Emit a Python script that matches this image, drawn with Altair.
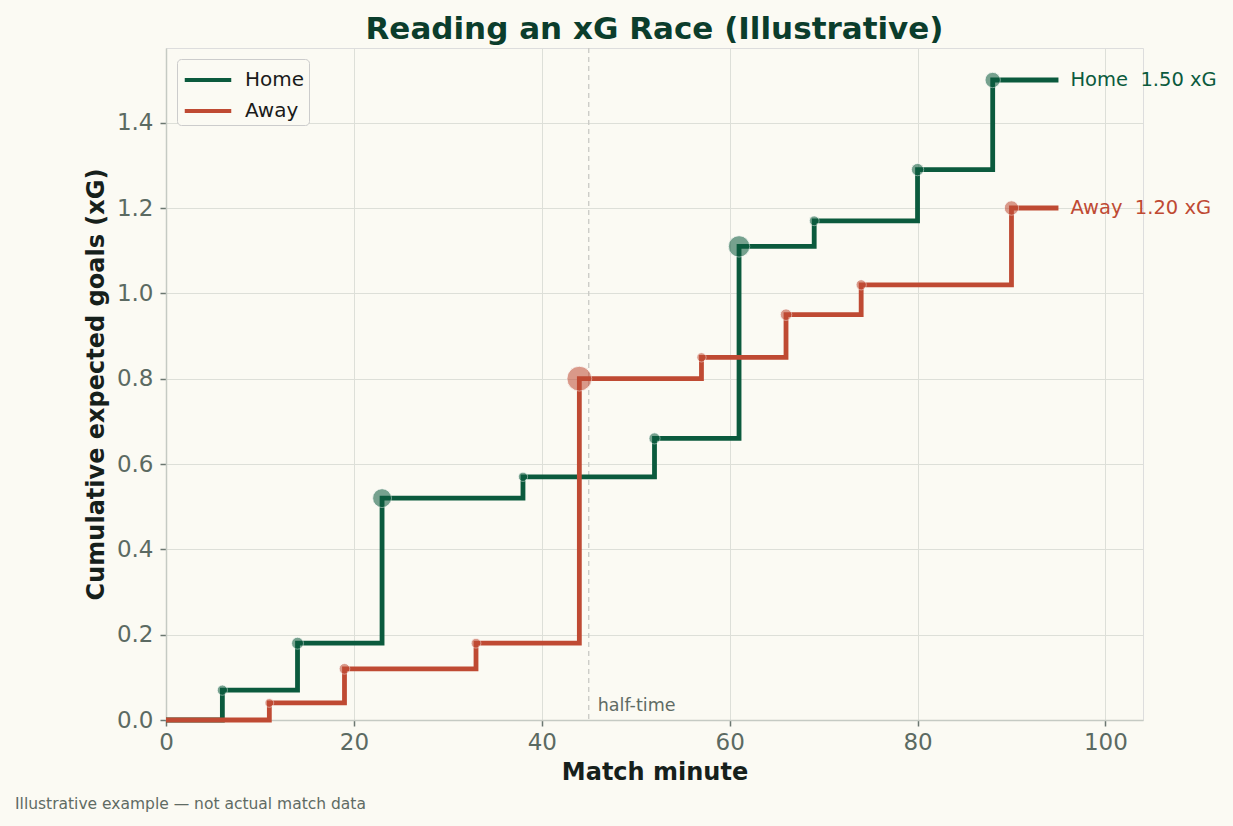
import altair as alt
import pandas as pd

# ---- data ----
home_minutes = [6, 14, 23, 38, 52, 61, 69, 80, 88]
home_shot_xg = [0.07, 0.11, 0.34, 0.05, 0.09, 0.45, 0.06, 0.12, 0.21]
away_minutes = [11, 19, 33, 44, 57, 66, 74, 90]
away_shot_xg = [0.04, 0.08, 0.06, 0.62, 0.05, 0.10, 0.07, 0.18]
teams = ["Home", "Away"]
team_colors = ["#0b5a3d", "#bf4a33"]
full_time = 95
half_time = 45
x_ticks = [0, 20, 40, 60, 80, 100]
y_ticks = [0.0, 0.2, 0.4, 0.6, 0.8, 1.0, 1.2, 1.4]
footnote = ["Illustrative example \u2014 not actual match data"]

def build(team, minutes, shots):
    cum, s = [], 0.0
    for v in shots:
        s = round(s + v, 4)
        cum.append(s)
    line = [{"team": team, "minute": 0, "xg": 0.0}]
    line += [{"team": team, "minute": m, "xg": c} for m, c in zip(minutes, cum)]
    line.append({"team": team, "minute": full_time, "xg": cum[-1]})
    pts = [{"team": team, "minute": m, "xg": c, "shot": v} for m, c, v in zip(minutes, cum, shots)]
    end = {"team": team, "minute": full_time, "xg": cum[-1],
           "label": f"{team}\u00a0 {cum[-1]:.2f} xG"}
    return line, pts, end

rows_line, rows_pts, rows_end = [], [], []
for t, m, s in [("Home", home_minutes, home_shot_xg), ("Away", away_minutes, away_shot_xg)]:
    l, p, e = build(t, m, s)
    rows_line += l
    rows_pts += p
    rows_end.append(e)

df_line = pd.DataFrame(rows_line)
df_pts = pd.DataFrame(rows_pts)
df_end = pd.DataFrame(rows_end)
df_ht = pd.DataFrame({"minute": [half_time], "y": [0.033], "label": ["half-time"]})
df_foot = pd.DataFrame({"label": footnote})

W, H = 977, 672
xscale = alt.Scale(domain=[0, 104], nice=False, zero=False)
yscale = alt.Scale(domain=[0, 1.575], nice=False)
color = alt.Color("team:N", scale=alt.Scale(domain=teams, range=team_colors),
                  sort=teams,
                  legend=alt.Legend(title=None, orient="top-left", offset=11,
                                    symbolType="M-1.55,0H1.55", symbolStrokeWidth=4,
                                    symbolSize=900, labelFontSize=20,
                                    labelColor="#1a1a1a", rowPadding=4,
                                    symbolOffset=10, labelOffset=20,
                                    fillColor="#fbfaf3", strokeColor="#cccccc",
                                    cornerRadius=4, padding=4))

x_enc = alt.X("minute:Q", scale=xscale,
              axis=alt.Axis(values=x_ticks, title="Match minute", format="d", labelFlush=False))
y_enc = alt.Y("xg:Q", scale=yscale,
              axis=alt.Axis(values=y_ticks, title="Cumulative expected goals (xG)", format=".1f",
                            labelFlush=False))

ht_rule = alt.Chart(df_ht).mark_rule(color="#c9c9c4", strokeDash=[5, 4], strokeWidth=1.3).encode(
    x=alt.X("minute:Q", scale=xscale))

ht_text = alt.Chart(df_ht).mark_text(align="left", baseline="middle", dx=9,
                                     fontSize=17.5, color="#5f6b64").encode(
    x=alt.X("minute:Q", scale=xscale), y=alt.Y("y:Q", scale=yscale), text="label:N")

lines = alt.Chart(df_line).mark_line(interpolate="step-after", strokeWidth=4.8).encode(
    x=x_enc, y=y_enc, color=color, order="minute:Q")

points = alt.Chart(df_pts).mark_point(filled=True, opacity=0.55, stroke="white",
                                      strokeWidth=1, strokeOpacity=0.8).encode(
    x=alt.X("minute:Q", scale=xscale), y=alt.Y("xg:Q", scale=yscale),
    color=alt.Color("team:N", scale=alt.Scale(domain=teams, range=team_colors), legend=None),
    size=alt.Size("shot:Q", scale=alt.Scale(domain=[0, 1], range=[40, 970], zero=False), legend=None))

end_text = alt.Chart(df_end).mark_text(align="left", baseline="middle", dx=12, fontSize=19.5).encode(
    x=alt.X("minute:Q", scale=xscale), y=alt.Y("xg:Q", scale=yscale), text="label:N",
    color=alt.Color("team:N", scale=alt.Scale(domain=teams, range=team_colors), legend=None))

foot = alt.Chart(df_foot).mark_text(align="left", baseline="middle", fontSize=15.5,
                                    color="#5f6b64").encode(
    x=alt.value(-151), y=alt.value(756), text="label:N")

chart = alt.layer(ht_rule, ht_text, lines, points, end_text, foot).properties(
    width=W, height=H,
    title=alt.Title("Reading an xG Race (Illustrative)", fontSize=31, fontWeight="bold",
                    color="#0b3d2c", anchor="middle", offset=1),
    padding={"left": 166, "top": 48, "right": 90, "bottom": 106},
    autosize=alt.AutoSizeParams(type="none"),
    background="#fbfaf3",
).resolve_scale(color="independent").configure_view(stroke=None).configure(
    font="DejaVu Sans"
).configure_axis(
    grid=True, gridColor="#dddfd8", gridWidth=1,
    domainColor="#c5cac3", domainWidth=1.5,
    tickColor="#6b7770", tickSize=6, tickWidth=1.5,
    labelColor="#5b6a62", labelFontSize=23,
    titleColor="#16201b", titleFontSize=24, titleFontWeight="bold",
    labelFont="DejaVu Sans", titleFont="DejaVu Sans",
).configure_axisX(titlePadding=6, labelPadding=5).configure_axisY(titlePadding=8, labelPadding=7
).configure_legend(labelFont="DejaVu Sans")

chart.save("out.html", embed_options={"renderer": "svg", "actions": False})
